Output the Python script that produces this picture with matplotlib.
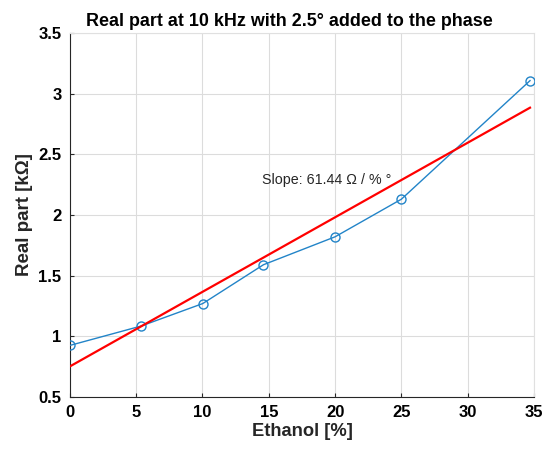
import matplotlib
matplotlib.use("Agg")
import matplotlib.pyplot as plt
import numpy as np

plt.rcParams['font.family'] = ['Liberation Sans', 'DejaVu Sans']

ethanol = [0, 5.38, 10.02, 14.6, 20.0, 25.0, 34.7]
real_part = [0.925, 1.085, 1.27, 1.59, 1.82, 2.13, 3.107]
fit_slope = 0.06144  # kOhm per %
fit_intercept = 0.752
xticks = [0, 5, 10, 15, 20, 25, 30, 35]
yticks = [0.5, 1, 1.5, 2, 2.5, 3, 3.5]
ytick_labels = ['0.5', '1', '1.5', '2', '2.5', '3', '3.5']

fig = plt.figure(figsize=(5.46, 4.5), dpi=100)
ax = fig.add_axes([0.128, 0.1178, 0.85, 0.809])

ax.plot(ethanol, real_part, '-o', color='#2284c8', lw=1.0, ms=6.5,
        mfc='none', mew=1.0, zorder=3)
xf = np.array([ethanol[0], ethanol[-1]])
ax.plot(xf, fit_intercept + fit_slope * xf, '-', color='#FF0000', lw=1.6, zorder=4)

ax.text(14.5, 2.29, 'Slope: 61.44 \u03a9 / % \u00b0', fontsize=10.3, color='#262626',
        va='center', ha='left')

ax.set_xlim(0, 35)
ax.set_ylim(0.5, 3.5)
ax.set_xticks(xticks)
ax.set_xticklabels([str(t) for t in xticks], fontsize=12, fontweight='bold')
ax.set_yticks(yticks)
ax.set_yticklabels(ytick_labels, fontsize=12, fontweight='bold')
ax.grid(True, color='#dcdcdc', lw=0.8)
ax.set_axisbelow(True)
ax.tick_params(direction='in', length=3, color='#262626', pad=6)
for s in ax.spines.values():
    s.set_color('#262626')
    s.set_linewidth(0.8)
ax.spines['top'].set_color('#e0e0e0')
ax.spines['right'].set_color('#e0e0e0')

ax.set_xlabel('Ethanol [%]', fontsize=13.2, fontweight='bold', color='#262626', labelpad=2)
ax.set_ylabel('Real part [k\u03a9]', fontsize=13.5, fontweight='bold', color='#262626', labelpad=4)
ax.set_title('Real part at 10 kHz with 2.5\u00b0 added to the phase', fontsize=12.9,
             fontweight='bold', pad=5, x=0.472)

fig.savefig('out.png', dpi=100)
